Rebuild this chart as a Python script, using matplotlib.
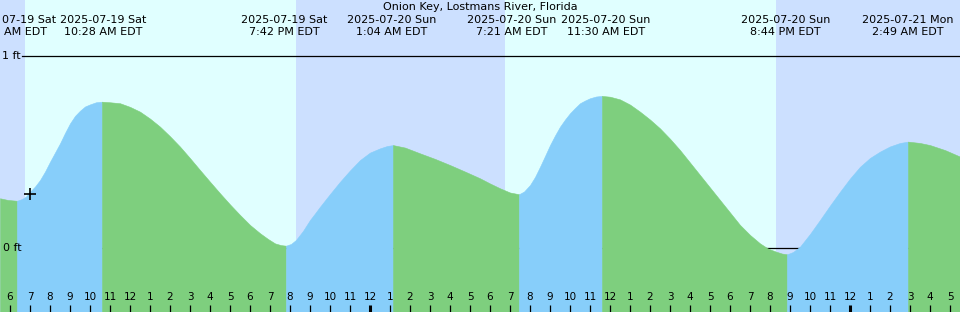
import matplotlib
matplotlib.use('Agg')
import matplotlib.pyplot as plt
import numpy as np

plt.rcParams['font.family'] = ['DejaVu Sans']

# hours since midnight 2025-07-19 (local, EDT), tide height in ft
times = [5.5, 5.9, 6.35,
         6.6, 6.8, 7.0, 7.25, 7.5, 7.75, 8.0, 8.25, 8.5, 8.75, 9.0, 9.25,
         9.5, 9.75, 10.0, 10.3, 10.6,
         11.0, 11.5, 12.0, 12.5, 13.0, 13.5, 14.0, 14.5, 15.0, 15.5, 16.0,
         16.5, 17.0, 17.5, 18.0, 18.5, 18.9, 19.25, 19.55, 19.8,
         20.05, 20.3, 20.65, 21.0, 21.25, 21.5, 22.0, 22.5, 23.0, 23.5,
         24.0, 24.5, 24.85, 25.15,
         25.75, 26.5, 27.25, 28.0, 28.75, 29.5, 30.0, 30.5, 31.0, 31.45,
         31.7, 32.0, 32.25, 32.5, 32.75, 33.0, 33.25, 33.5, 33.75, 34.0,
         34.25, 34.5, 34.75, 35.0, 35.3, 35.6,
         36.0, 36.5, 37.0, 37.5, 38.0, 38.5, 39.0, 39.5, 40.0, 40.5, 41.0,
         41.5, 42.0, 42.5, 43.0, 43.5, 43.9, 44.3, 44.6, 44.85,
         45.15, 45.5, 46.0, 46.5, 47.0, 47.5, 48.0, 48.5, 49.0, 49.5,
         50.0, 50.5, 50.9,
         51.5, 52.0, 52.75, 53.5]
heights = [0.259, 0.250, 0.246,
           0.255, 0.268, 0.293, 0.320, 0.354, 0.398, 0.449, 0.497, 0.545, 0.599, 0.649, 0.688,
           0.715, 0.737, 0.748, 0.759, 0.762,
           0.759, 0.754, 0.735, 0.710, 0.674, 0.632, 0.582, 0.528, 0.468, 0.406, 0.345,
           0.285, 0.227, 0.172, 0.120, 0.077, 0.047, 0.024, 0.015, 0.012,
           0.021, 0.042, 0.089, 0.146, 0.180, 0.215, 0.281, 0.345, 0.404, 0.458,
           0.497, 0.519, 0.531, 0.536,
           0.523, 0.493, 0.464, 0.432, 0.398, 0.363, 0.336, 0.311, 0.289, 0.280,
           0.294, 0.328, 0.370, 0.423, 0.479, 0.536, 0.586, 0.632, 0.669, 0.702,
           0.729, 0.754, 0.768, 0.780, 0.789, 0.792,
           0.788, 0.774, 0.747, 0.710, 0.669, 0.623, 0.569, 0.510, 0.445, 0.380, 0.315,
           0.250, 0.185, 0.120, 0.068, 0.024, -0.003, -0.019, -0.029, -0.033,
           -0.021, 0.007, 0.073, 0.146, 0.221, 0.293, 0.362, 0.423, 0.469, 0.502,
           0.529, 0.547, 0.554,
           0.547, 0.536, 0.510, 0.476]

# high / low tide events
event_times = [6.35, 10.6, 19.8, 25.15, 31.45, 35.6, 44.85, 50.9]
event_labels = [
    ("07-19 Sat", "AM EDT"),
    ("2025-07-19 Sat", "10:28 AM EDT"),
    ("2025-07-19 Sat", "7:42 PM EDT"),
    ("2025-07-20 Sun", "1:04 AM EDT"),
    ("2025-07-20 Sun", "7:21 AM EDT"),
    ("2025-07-20 Sun", "11:30 AM EDT"),
    ("2025-07-20 Sun", "8:44 PM EDT"),
    ("2025-07-21 Mon", "2:49 AM EDT"),
]

# sunrise / sunset
sunrises = [6.75, 30.75]
sunsets = [20.3, 44.3]

now_time = 7.0
now_height = 0.281

hour_ticks = list(range(6, 54))

title = "Onion Key, Lostmans River, Florida"

day_color = '#e0ffff'
night_color = '#cce0ff'
fall_color = '#7ecf7e'
rise_color = '#87cefa'

t0, t1 = 5.5, 53.5
ylo, yhi = -64 / 192, 248 / 192


def px(y):
    # pixel row -> height in ft
    return (248 - y) / 192


fig = plt.figure(figsize=(9.6, 3.12), dpi=100)
ax = fig.add_axes([0, 0, 1, 1])
ax.set_xlim(t0, t1)
ax.set_ylim(ylo, yhi)
ax.axis('off')

# day / night background
ax.axvspan(t0, t1, color=night_color, lw=0, zorder=0)
for sr, ss in zip(sunrises, sunsets):
    ax.axvspan(sr, ss, color=day_color, lw=0, zorder=0)

# datum lines (behind the water)
x_line = t0 + 22 / 20
ax.plot([x_line, t1], [1, 1], color='black', lw=0.9, zorder=1)
ax.plot([x_line, t1], [0, 0], color='black', lw=0.9, zorder=1)

# tide fill, green while falling, blue while rising
t = np.array(times)
h = np.array(heights)
bounds = [t0] + event_times + [t1]
for i in range(len(bounds) - 1):
    a, b = bounds[i], bounds[i + 1]
    m = (t >= a) & (t <= b)
    c = rise_color if i % 2 == 1 else fall_color
    ax.fill_between(t[m], h[m], ylo, facecolor=c, edgecolor=c, lw=0.4, zorder=2)

ax.plot([now_time], [now_height], marker='+', color='black', ms=9, mew=1.2, zorder=4)

# title and event labels
ax.text((t0 + t1) / 2, px(7.5), title, ha='center', va='center', fontsize=8, zorder=5)
label_pos = [6.175, 10.675, 19.725, 25.1, 31.1, 35.8, 44.785, 50.875]
for k, (xp, (d, tm)) in enumerate(zip(label_pos, event_labels)):
    if k == 0:
        # first label runs off the left edge; only its visible part is shown
        ax.text(t0 + 1.5 / 20, px(20), d, ha='left', va='center', fontsize=8, zorder=5)
        ax.text(t0 + 4 / 20, px(32), tm, ha='left', va='center', fontsize=8, zorder=5)
        continue
    ax.text(xp, px(20), d, ha='center', va='center', fontsize=8, zorder=5)
    ax.text(xp, px(32), tm, ha='center', va='center', fontsize=8, zorder=5)

ax.text(t0 + 2 / 20, 1, "1 ft", ha='left', va='center', fontsize=8, zorder=5)
ax.text(t0 + 3 / 20, 0, "0 ft", ha='left', va='center', fontsize=8, zorder=5)

# hour ticks
for hr in hour_ticks:
    lab = hr % 12
    if lab == 0:
        lab = 12
    lw = 2.2 if hr % 24 == 0 else 0.9
    ax.plot([hr, hr], [px(305), px(312)], color='black', lw=lw, zorder=5,
            solid_capstyle='butt')
    ax.text(hr, px(297.5), str(lab), ha='center', va='center', fontsize=7.5, zorder=5)

fig.savefig('out.png', dpi=100)
